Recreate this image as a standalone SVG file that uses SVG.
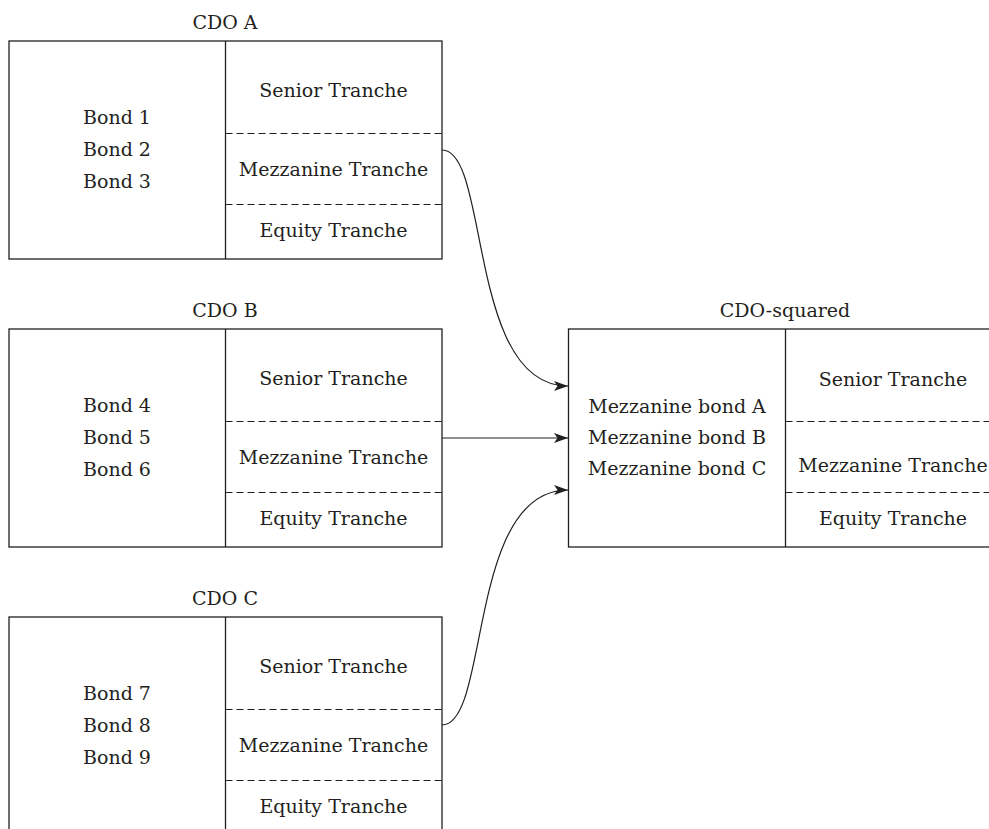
<svg xmlns="http://www.w3.org/2000/svg" width="989" height="829" viewBox="0 0 989 829">
<style>
.box{fill:none;stroke:#231f20;stroke-width:1.3}
.dash{fill:none;stroke:#231f20;stroke-width:1.2;stroke-dasharray:7 4}
.conn{fill:none;stroke:#231f20;stroke-width:1.2}
text{font-family:"DejaVu Serif","Liberation Serif",serif;font-size:19px;fill:#231f20;text-anchor:middle}
</style>
<defs>
<marker id="arr" viewBox="0 0 14 10" refX="14" refY="5" markerWidth="14" markerHeight="10" markerUnits="userSpaceOnUse" orient="auto">
<path d="M0,0 L14,5 L0,10 L3.5,5 Z" fill="#231f20"/>
</marker>
</defs>
<rect width="989" height="829" fill="#fff"/>
<g id="cdoA">
<text x="225" y="29">CDO A</text>
<rect class="box" x="9" y="41" width="433" height="218"/>
<line class="box" x1="225.5" y1="41" x2="225.5" y2="259"/>
<line class="dash" x1="225.5" y1="133.5" x2="442" y2="133.5"/>
<line class="dash" x1="225.5" y1="204.5" x2="442" y2="204.5"/>
<text x="117" y="124">Bond 1</text>
<text x="117" y="156">Bond 2</text>
<text x="117" y="188">Bond 3</text>
<text x="333.5" y="97">Senior Tranche</text>
<text x="333.5" y="176">Mezzanine Tranche</text>
<text x="333.5" y="237">Equity Tranche</text>
</g>
<g id="cdoB">
<text x="225" y="317">CDO B</text>
<rect class="box" x="9" y="329" width="433" height="218"/>
<line class="box" x1="225.5" y1="329" x2="225.5" y2="547"/>
<line class="dash" x1="225.5" y1="421.5" x2="442" y2="421.5"/>
<line class="dash" x1="225.5" y1="492.5" x2="442" y2="492.5"/>
<text x="117" y="412">Bond 4</text>
<text x="117" y="444">Bond 5</text>
<text x="117" y="476">Bond 6</text>
<text x="333.5" y="385">Senior Tranche</text>
<text x="333.5" y="464">Mezzanine Tranche</text>
<text x="333.5" y="525">Equity Tranche</text>
</g>
<g id="cdoC">
<text x="225" y="605">CDO C</text>
<rect class="box" x="9" y="617" width="433" height="218"/>
<line class="box" x1="225.5" y1="617" x2="225.5" y2="835"/>
<line class="dash" x1="225.5" y1="709.5" x2="442" y2="709.5"/>
<line class="dash" x1="225.5" y1="780.5" x2="442" y2="780.5"/>
<text x="117" y="700">Bond 7</text>
<text x="117" y="732">Bond 8</text>
<text x="117" y="764">Bond 9</text>
<text x="333.5" y="673">Senior Tranche</text>
<text x="333.5" y="752">Mezzanine Tranche</text>
<text x="333.5" y="813">Equity Tranche</text>
</g>
<g id="cdoSquared">
<text x="785" y="317">CDO-squared</text>
<rect class="box" x="568.5" y="329" width="433" height="218"/>
<line class="box" x1="785.5" y1="329" x2="785.5" y2="547"/>
<line class="dash" x1="785.5" y1="421.5" x2="1001" y2="421.5"/>
<line class="dash" x1="785.5" y1="492.5" x2="1001" y2="492.5"/>
<text x="677" y="413">Mezzanine bond A</text>
<text x="677" y="444">Mezzanine bond B</text>
<text x="677" y="475">Mezzanine bond C</text>
<text x="893" y="386">Senior Tranche</text>
<text x="893" y="472">Mezzanine Tranche</text>
<text x="893" y="525">Equity Tranche</text>
</g>
<g id="connectors">
<path class="conn" d="M442,150 C490,150 467,386 568,386" marker-end="url(#arr)"/>
<path class="conn" d="M442,438 L568,438" marker-end="url(#arr)"/>
<path class="conn" d="M442,725 C490,725 467,490 568,490" marker-end="url(#arr)"/>
</g>
</svg>
